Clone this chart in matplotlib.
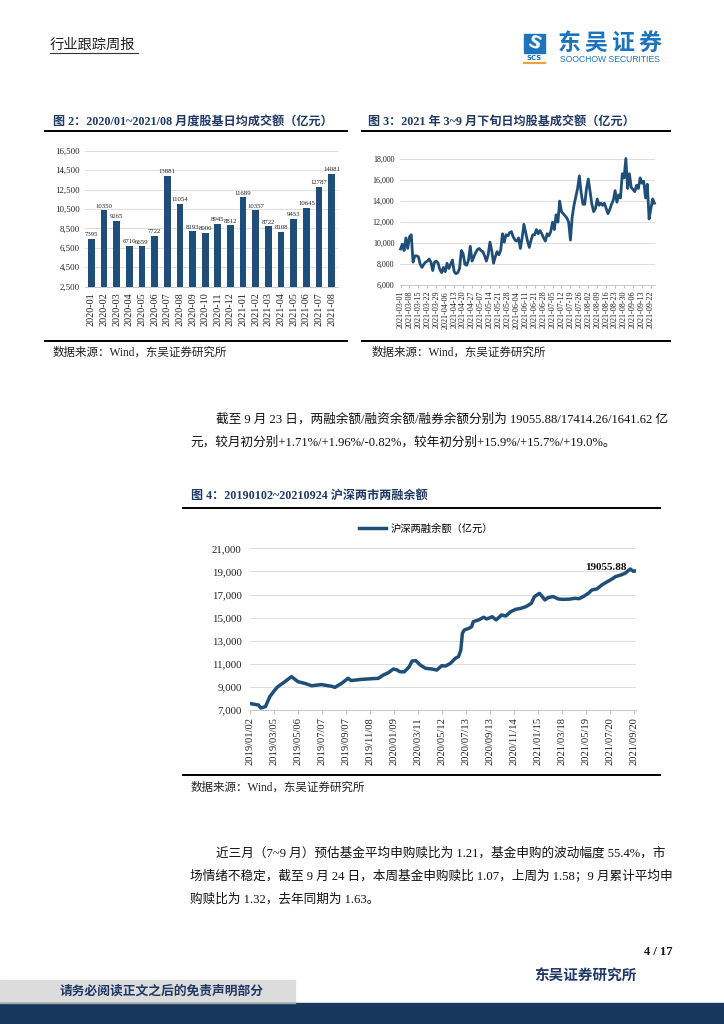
import numpy as np
import pandas as pd
import matplotlib
matplotlib.use('Agg')
import matplotlib.pyplot as plt
from matplotlib.patches import Rectangle

plt.rcParams['font.family'] = ['Liberation Serif', 'Noto Sans CJK SC']
plt.rcParams['axes.unicode_minus'] = False

# ---- data ----
months2 = ['2020-01', '2020-02', '2020-03', '2020-04', '2020-05', '2020-06', '2020-07',
           '2020-08', '2020-09', '2020-10', '2020-11', '2020-12', '2021-01', '2021-02',
           '2021-03', '2021-04', '2021-05', '2021-06', '2021-07', '2021-08']
turnover2 = [7395, 10350, 9265, 6710, 6659, 7722, 13881, 11054, 8193, 8006,
             8945, 8812, 11689, 10357, 8722, 8108, 9453, 10645, 12787, 14081]

ticks3 = ['2021-03-01', '2021-03-08', '2021-03-15', '2021-03-22', '2021-03-29', '2021-04-06',
          '2021-04-13', '2021-04-20', '2021-04-27', '2021-05-07', '2021-05-14', '2021-05-21',
          '2021-05-28', '2021-06-04', '2021-06-11', '2021-06-21', '2021-06-28', '2021-07-05',
          '2021-07-12', '2021-07-19', '2021-07-26', '2021-08-02', '2021-08-09', '2021-08-16',
          '2021-08-23', '2021-08-30', '2021-09-06', '2021-09-13', '2021-09-22']
daily3 = [9450, 9900, 9300, 10500, 9500, 10600, 10800, 8200, 8800, 8800,
          8700, 8000, 7700, 8000, 8200, 8300, 8500, 8200, 7400, 8200,
          8300, 8100, 7500, 7200, 7700, 7300, 8100, 7600, 8000, 8400,
          7300, 7100, 7200, 7600, 9300, 9000, 8000, 7900, 8400, 9700,
          8300, 8700, 9100, 9400, 9500, 9300, 9200, 8800, 8300, 8900,
          10100, 9300, 8100, 8700, 9200, 8900, 9300, 10900, 10100, 10800,
          10700, 11000, 11100, 10600, 10300, 10200, 10500, 9500, 10500, 11800,
          11000, 10200, 9600, 10300, 10800, 10800, 11300, 10900, 11200, 10900,
          10500, 10200, 10900, 10700, 11100, 12000, 11300, 12700, 12000, 14000,
          13000, 12800, 12600, 12400, 12000, 10300, 12500, 13600, 14400, 15200,
          16400, 14800, 13700, 13700, 15200, 16100, 14900, 13700, 13000, 13300,
          14200, 13600, 13800, 13600, 13800, 13300, 12800, 13200, 13700, 14100,
          15000, 13900, 14600, 14300, 16600, 16200, 18050, 15200, 16600, 15300,
          15100, 14900, 15500, 15200, 16200, 15700, 15900, 14300, 15600, 12300,
          13300, 14200, 13800]

dates4 = ['2019-01-02', '2019-01-24', '2019-01-30', '2019-02-11', '2019-02-22',
          '2019-03-07', '2019-03-15', '2019-04-02', '2019-04-19', '2019-05-06',
          '2019-05-24', '2019-06-10', '2019-07-05', '2019-08-01', '2019-08-09',
          '2019-08-26', '2019-09-12', '2019-09-20', '2019-10-17', '2019-11-12',
          '2019-11-29', '2019-12-12', '2019-12-25', '2020-01-07', '2020-01-16',
          '2020-01-23', '2020-02-04', '2020-02-17', '2020-02-24', '2020-03-05',
          '2020-03-16', '2020-03-30', '2020-04-15', '2020-04-28', '2020-05-11',
          '2020-05-20', '2020-06-02', '2020-06-15', '2020-06-23', '2020-06-29',
          '2020-07-03', '2020-07-08', '2020-07-20', '2020-07-27', '2020-07-31',
          '2020-08-14', '2020-08-27', '2020-09-04', '2020-09-18', '2020-09-28',
          '2020-10-12', '2020-10-23', '2020-11-05', '2020-11-18', '2020-12-01',
          '2020-12-14', '2020-12-28', '2021-01-05', '2021-01-18', '2021-02-01',
          '2021-02-09', '2021-02-22', '2021-03-08', '2021-03-19', '2021-04-06',
          '2021-04-19', '2021-04-30', '2021-05-11', '2021-05-24', '2021-06-02',
          '2021-06-15', '2021-06-28', '2021-07-12', '2021-07-23', '2021-08-02',
          '2021-08-16', '2021-08-27', '2021-09-09', '2021-09-17', '2021-09-24']
margin4 = [7560, 7430, 7170, 7300, 8150, 8730, 9020, 9450, 9890, 9450,
           9300, 9100, 9200, 9050, 8960, 9300, 9740, 9550, 9650, 9710,
           9740, 10030, 10230, 10550, 10480, 10320, 10300, 10750, 11240, 11270,
           10900, 10610, 10550, 10460, 10840, 10800, 11040, 11480, 11620, 12200,
           13640, 13930, 14070, 14220, 14650, 14800, 15030, 14880, 15080, 14800,
           15230, 15140, 15520, 15720, 15800, 15950, 16240, 16820, 17100, 16530,
           16730, 16820, 16610, 16580, 16600, 16670, 16640, 16820, 17100, 17390,
           17480, 17830, 18110, 18320, 18550, 18690, 18840, 19210, 19010, 19055.88]
ticks4 = ['2019/01/02', '2019/03/05', '2019/05/06', '2019/07/07', '2019/09/07', '2019/11/08',
          '2020/01/09', '2020/03/11', '2020/05/12', '2020/07/13', '2020/09/13', '2020/11/14',
          '2021/01/15', '2021/03/18', '2021/05/19', '2021/07/20', '2021/09/20']

W, H = 724, 1024
navy = '#1F3864'
bar_blue = '#1F4E79'
grid_c = '#D9D9D9'


def rect(l, t, r, b):
    return [l / W, 1 - b / H, (r - l) / W, (b - t) / H]


fig = plt.figure(figsize=(W / 100, H / 100), dpi=100)
pg = fig.add_axes([0, 0, 1, 1])
pg.set_xlim(0, W)
pg.set_ylim(H, 0)
pg.axis('off')

# header
pg.text(50, 45, '行业跟踪周报', fontsize=10.3, color='#222222', va='center')
pg.plot([50, 138], [53, 53], color='#333333', lw=0.8)
pg.add_patch(Rectangle((524, 34), 21, 19, color='#1C75BC'))
pg.text(534.5, 43.5, 'S', fontsize=13, color='white', weight='bold', ha='center', va='center',
        family='DejaVu Sans', rotation=-20)
pg.text(534.5, 58, 'SCS', fontsize=5, color='#1C75BC', weight='bold', ha='center', va='center',
        family='DejaVu Sans')
pg.plot([524, 545], [62.5, 62.5], color='#F0A030', lw=1.5)
for i, ch in enumerate('东吴证券'):
    pg.text(569 + 27 * i, 43, ch, fontsize=16.5, color='#1C75BC', weight='heavy',
            ha='center', va='center', family='Noto Sans CJK SC')
pg.text(610, 59, 'SOOCHOW SECURITIES', fontsize=6.2, color='#1C75BC', ha='center',
        va='center', family='Liberation Sans')

# figure titles and frames
title_kw = dict(fontsize=8.7, weight='bold', color=navy, va='center')
pg.text(53, 121.5, '图 2：2020/01~2021/08 月度股基日均成交额（亿元）', **title_kw)
pg.text(368, 121.5, '图 3：2021 年 3~9 月下旬日均股基成交额（亿元）', **title_kw)
pg.text(191, 496, '图 4：20190102~20210924 沪深两市两融余额', **title_kw)
for x0, x1, y in [(45, 347, 131), (362, 670, 131), (45, 347, 340.5), (362, 670, 340.5),
                  (183, 660, 508), (183, 660, 775)]:
    pg.plot([x0, x1], [y, y], color='black', lw=1.4)
src_kw = dict(fontsize=8.3, color='#222222', va='center')
pg.text(53, 353, '数据来源：Wind，东吴证券研究所', **src_kw)
pg.text(372, 353, '数据来源：Wind，东吴证券研究所', **src_kw)
pg.text(191, 788, '数据来源：Wind，东吴证券研究所', **src_kw)

# body text
body_kw = dict(fontsize=9.1, color='#111111', va='center')
pg.text(216, 419, '截至 9 月 23 日，两融余额/融资余额/融券余额分别为 19055.88/17414.26/1641.62 亿', **body_kw)
pg.text(190, 442, '元，较月初分别+1.71%/+1.96%/-0.82%，较年初分别+15.9%/+15.7%/+19.0%。', **body_kw)
pg.text(216, 853, '近三月（7~9 月）预估基金平均申购赎比为 1.21，基金申购的波动幅度 55.4%，市', **body_kw)
pg.text(190, 876, '场情绪不稳定，截至 9 月 24 日，本周基金申购赎比 1.07，上周为 1.58；9 月累计平均申', **body_kw)
pg.text(190, 899, '购赎比为 1.32，去年同期为 1.63。', **body_kw)

# footer
pg.text(673, 952, '4 / 17', fontsize=9, weight='bold', ha='right', va='center', color='#111111')
pg.text(585, 977, '东吴证券研究所', fontsize=10.5, weight='bold', ha='center', va='center', color=navy)
pg.add_patch(Rectangle((0, 980), 295, 23, color='#DCDCDC'))
pg.plot([0, 295], [1002.5, 1002.5], color='#A6A6A6', lw=1)
pg.text(162, 991.5, '请务必阅读正文之后的免责声明部分', fontsize=9.2, weight='bold', ha='center',
        va='center', color=navy)
pg.add_patch(Rectangle((0, 1003), W, 21, color='#17375E'))

# ---- chart 2: monthly bars ----
ax2 = fig.add_axes(rect(85, 150.7, 338, 286.7))
x2 = np.arange(len(months2))
ax2.bar(x2, turnover2, width=0.53, color=bar_blue, zorder=2)
for i, v in enumerate(turnover2):
    ax2.text(i, v + 180, str(v), ha='center', va='bottom', fontsize=4.9, color='#222222')
ax2.set_xlim(-0.5, len(months2) - 0.5)
ax2.set_ylim(2500, 16500)
ax2.set_yticks(range(2500, 16501, 2000))
ax2.set_yticklabels([f'{t:,}' for t in range(2500, 16501, 2000)], fontsize=6.3)
ax2.set_xticks(x2)
ax2.set_xticklabels(months2, rotation=90, fontsize=7.3)
ax2.grid(axis='y', color=grid_c, lw=0.6, zorder=0)
for s in ['top', 'right', 'left']:
    ax2.spines[s].set_visible(False)
ax2.spines['bottom'].set_color('#BFBFBF')
ax2.spines['bottom'].set_linewidth(0.6)
ax2.tick_params(length=0, pad=4, colors='#222222')

# ---- chart 3: daily turnover ----
ax3 = fig.add_axes(rect(400, 159, 655, 285.3))
x3 = np.arange(len(daily3))
ax3.plot(x3, daily3, color=bar_blue, lw=2.0, zorder=3, clip_on=False)
ax3.set_xlim(-0.3, len(daily3) - 0.7)
ax3.set_ylim(6000, 18000)
ax3.set_yticks(range(6000, 18001, 2000))
ax3.set_yticklabels([f'{t:,}' for t in range(6000, 18001, 2000)], fontsize=5.8)
ax3.set_xticks(x3[::5])
ax3.set_xticklabels(ticks3, rotation=90, fontsize=5.9)
ax3.grid(axis='y', color=grid_c, lw=0.6)
for s in ['top', 'right', 'left']:
    ax3.spines[s].set_visible(False)
ax3.spines['bottom'].set_color('#BFBFBF')
ax3.spines['bottom'].set_linewidth(0.6)
ax3.tick_params(axis='y', length=0, pad=4, colors='#222222')
ax3.tick_params(axis='x', length=2, color='#BFBFBF', pad=2, labelcolor='#222222')

# ---- chart 4: margin balance ----
ax4 = fig.add_axes(rect(250, 548.3, 636, 710))
d4 = pd.to_datetime(dates4)
ax4.plot(d4, margin4, color=bar_blue, lw=2.5, label='沪深两融余额（亿元）', zorder=3)
ax4.set_xlim(d4[0], d4[-1])
ax4.set_ylim(7000, 21000)
ax4.set_yticks(range(7000, 21001, 2000))
ax4.set_yticklabels([f'{t:,}' for t in range(7000, 21001, 2000)], fontsize=7.8)
ax4.set_xticks(pd.to_datetime(ticks4))
ax4.set_xticklabels(ticks4, rotation=90, fontsize=7.6)
ax4.grid(axis='y', color=grid_c, lw=0.6)
for s in ['top', 'right', 'left']:
    ax4.spines[s].set_visible(False)
ax4.spines['bottom'].set_color('#BFBFBF')
ax4.spines['bottom'].set_linewidth(0.6)
ax4.tick_params(axis='y', length=0, pad=6, colors='#222222')
ax4.tick_params(axis='x', length=3, color='#BFBFBF', pad=2, labelcolor='#222222')
ax4.text(d4[-1] - pd.Timedelta(days=24), 19380, f'{margin4[-1]:.2f}', fontsize=8,
         weight='bold', ha='right', va='center', color='#111111')
ax4.legend(loc='center', bbox_to_anchor=(426 / W, 1 - 529 / H), bbox_transform=fig.transFigure,
           frameon=False, fontsize=7.4, handlelength=2.6, handletextpad=0.4)

fig.savefig('out.png', dpi=100)
